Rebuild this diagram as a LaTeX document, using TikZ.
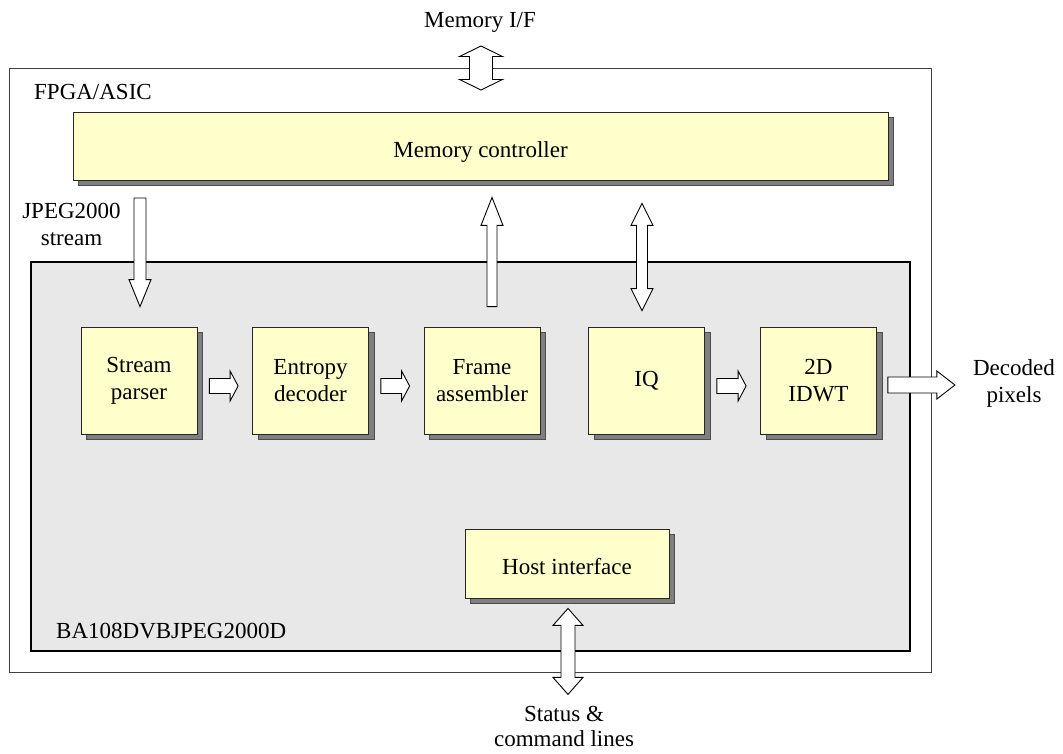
\documentclass[tikz,border=0pt]{standalone}
\usepackage{fontspec}
\setmainfont{Liberation Serif}
\usetikzlibrary{calc,shadows}

\definecolor{blockfill}{HTML}{FFFFCC}
\definecolor{corefill}{HTML}{E8E8E8}
\definecolor{shadowgrey}{HTML}{7F7F7F}

\tikzset{
  lbl/.style={inner sep=0pt, font=\fontsize{23}{27}\selectfont, align=center},
  stage/.style={draw=black!85, line width=0.8pt, fill=blockfill, inner sep=0pt,
    align=center, font=\fontsize{23}{27}\selectfont,
    drop shadow={shadow xshift=5.5pt, shadow yshift=-5.5pt, fill=shadowgrey,
      draw=black!70, opacity=1}},
  blockarr/.style={draw=black, line width=0.9pt, fill=white, line join=miter},
}

% wide block arrow from #1 (tail) to #2 (tip):
% #3 shaft half width, #4 head half width, #5 head length
\newcommand\blockarrow[5]{%
  \path ($(#2)!#5!(#1)$) coordinate (ba-b);
  \draw[blockarr] ($(#1)!#3!90:(#2)$) -- ($(ba-b)!#3!90:(#2)$)
    -- ($(ba-b)!#4!90:(#2)$) -- (#2) -- ($(ba-b)!#4!-90:(#2)$)
    -- ($(ba-b)!#3!-90:(#2)$) -- ($(#1)!#3!-90:(#2)$) -- cycle;
}
% wide two-headed block arrow between tips #1 and #2
\newcommand\dblarrow[5]{%
  \path ($(#1)!#5!(#2)$) coordinate (ba-a) ($(#2)!#5!(#1)$) coordinate (ba-b);
  \draw[blockarr] (#1) -- ($(ba-a)!#4!90:(#2)$) -- ($(ba-a)!#3!90:(#2)$)
    -- ($(ba-b)!#3!90:(#2)$) -- ($(ba-b)!#4!90:(#2)$) -- (#2)
    -- ($(ba-b)!#4!-90:(#2)$) -- ($(ba-b)!#3!-90:(#2)$)
    -- ($(ba-a)!#3!-90:(#2)$) -- ($(ba-a)!#4!-90:(#2)$) -- cycle;
}

\begin{document}
\begin{tikzpicture}[x=1pt,y=-1pt]
\useasboundingbox (0,0) rectangle (1063,753);

% device and decoder core
\node[draw=black!75, line width=0.8pt, fill=white, minimum width=922pt,
  minimum height=604pt, inner sep=0pt] (chip) at (470,370) {};
\node[draw=black, line width=1.6pt, fill=corefill, minimum width=879pt,
  minimum height=389pt, inner sep=0pt] (core) at (470.5,456.5) {};

% functional blocks
\node[stage, minimum width=815pt, minimum height=68pt, text height=22pt,
  text depth=0pt] (mc) at (480.5,146) {Memory controller};
\node[stage, minimum width=116pt, minimum height=107pt] (sp) at (139,380.5) {Stream\\parser};
\node[stage, minimum width=116pt, minimum height=107pt] (ed) at (310.5,380.5) {Entropy\\decoder};
\node[stage, minimum width=116pt, minimum height=107pt] (fa) at (482,380.5) {Frame\\assembler};
\node[stage, minimum width=116pt, minimum height=107pt] (iq) at (646.5,380.5) {IQ};
\node[stage, minimum width=116pt, minimum height=107pt] (idwt) at (818.5,380.5) {2D\\IDWT};
\node[stage, minimum width=204pt, minimum height=69pt, text height=21pt,
  text depth=0pt] (host) at (567,563.5) {Host interface};

% labels (base anchor of a two-line label sits on its last line)
\node[lbl, anchor=base] (memif) at (480,27) {Memory I/F};
\node[lbl, anchor=base west] (chiplbl) at (34,99) {FPGA/ASIC};
\node[lbl, anchor=base west] (corelbl) at (56,638) {BA108DVBJPEG2000D};
\node[lbl, anchor=base] (jpeg) at (71.5,245) {JPEG2000\\stream};
\node[lbl, anchor=base] (outlbl) at (1014,402) {Decoded\\pixels};
\node[lbl, anchor=base, font=\fontsize{23}{25}\selectfont] (hostlbl) at (564,746)
  {Status \&\\command lines};

% arrow end points
\coordinate (mem-top) at (481,46);
\coordinate (mem-bot) at (481,90);
\coordinate (js-tail) at (140,198);
\coordinate (js-tip) at ($(sp.north)+(1,-20)$);
\coordinate (fa-tail) at ($(fa.north)+(10,-20)$);
\coordinate (fa-tip) at ($(mc.south)+(11.5,17)$);
\coordinate (iq-a) at ($(mc.south)+(161.5,23)$);
\coordinate (iq-b) at ($(iq.north)+(-4.5,-16)$);
\coordinate (sp-out) at ($(sp.east)+(12,5.5)$);
\coordinate (ed-in) at ($(ed.west)+(-14,5.5)$);
\coordinate (ed-out) at ($(ed.east)+(12,5.5)$);
\coordinate (fa-in) at ($(fa.west)+(-14,5.5)$);
\coordinate (iq-out) at ($(iq.east)+(12,5.5)$);
\coordinate (idwt-in) at ($(idwt.west)+(-14,5.5)$);
\coordinate (px-tail) at ($(idwt.east)+(11,4.5)$);
\coordinate (px-tip) at ($(idwt.east)+(78,4.5)$);
\coordinate (host-a) at ($(host.south)+(1,10)$);
\coordinate (host-b) at ($(host.south)+(1,96)$);

% data paths
\dblarrow{mem-top}{mem-bot}{11.5pt}{21.5pt}{10.5pt}
\blockarrow{js-tail}{js-tip}{6pt}{11pt}{27pt}
\blockarrow{fa-tail}{fa-tip}{5pt}{11pt}{28pt}
\dblarrow{iq-a}{iq-b}{5.5pt}{11pt}{22pt}
\blockarrow{sp-out}{ed-in}{7.5pt}{15pt}{8pt}
\blockarrow{ed-out}{fa-in}{7.5pt}{15pt}{8pt}
\blockarrow{iq-out}{idwt-in}{7.5pt}{15pt}{8pt}
\blockarrow{px-tail}{px-tip}{8pt}{14pt}{18pt}
\dblarrow{host-a}{host-b}{7pt}{15pt}{17pt}
\end{tikzpicture}
\end{document}
